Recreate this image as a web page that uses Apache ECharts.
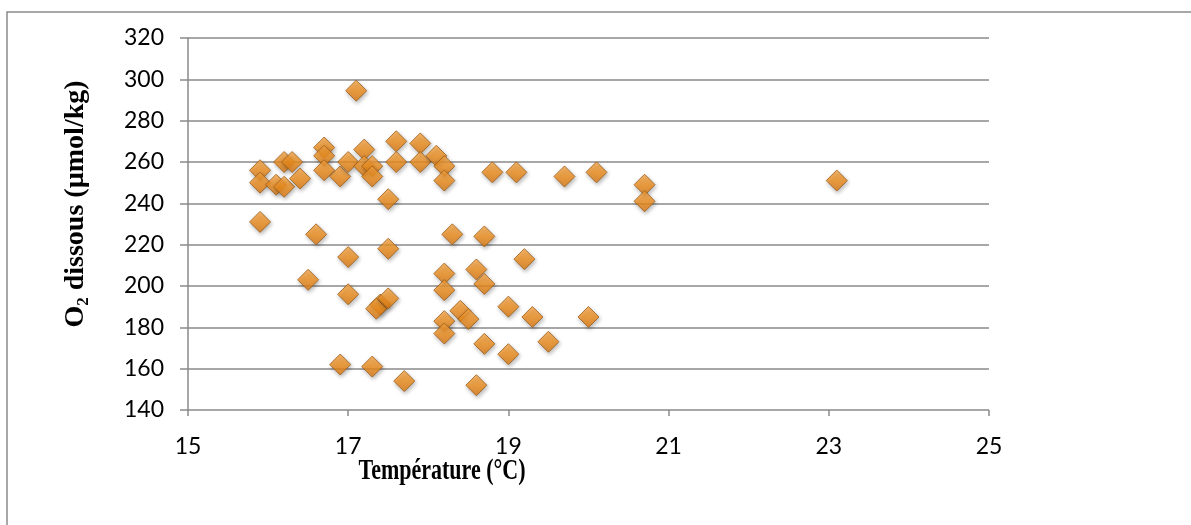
<!DOCTYPE html>
<html>
<head>
<meta charset="utf-8">
<script src="https://cdn.jsdelivr.net/npm/echarts@6/dist/echarts.min.js"></script>
<style>
  html, body { margin: 0; padding: 0; background: #fff; }
  #main { width: 1191px; height: 525px; }
</style>
</head>
<body>
<div id="main"></div>
<script>
// température (°C) / O2 dissous (µmol/kg)
var temperature = [15.9, 15.9, 15.9, 16.1, 16.2, 16.3, 16.2, 16.4, 16.6, 16.5,
  16.7, 16.7, 16.7, 16.9, 17.0, 17.0, 17.0, 16.9, 17.1, 17.2,
  17.2, 17.3, 17.3, 17.3, 17.4, 17.35, 17.5, 17.5, 17.5, 17.6,
  17.6, 17.7, 17.9, 17.9, 18.1, 18.2, 18.2, 18.3, 18.2, 18.2,
  18.2, 18.2, 18.4, 18.5, 18.6, 18.7, 18.7, 18.7, 18.6, 18.8,
  19.1, 19.7, 20.1, 20.7, 20.7, 19.2, 19.0, 19.3, 20.0, 19.0,
  19.5, 23.1];
var oxygene = [256, 250, 231, 249, 260, 260, 248, 252, 225, 203,
  267, 263, 256, 253, 260, 214, 196, 162, 294.5, 266,
  258, 258, 253, 161, 191, 189, 194, 242, 218, 270,
  260, 154, 269, 260, 263, 258, 251, 225, 206, 198,
  183, 177, 188, 184, 208, 201, 224, 172, 152, 255,
  255, 253, 255, 249, 241, 213, 190, 185, 185, 167,
  173, 251];
var xTicks = [15, 17, 19, 21, 23, 25];
var yTicks = [140, 160, 180, 200, 220, 240, 260, 280, 300, 320];

var pageModule = function () {

	var buildData = function(){
		var pts = [];
		for (var i = 0; i < temperature.length; i++) {
			pts.push([temperature[i], oxygene[i]]);
		}
		return pts;
	}

	var initChart = function(){
		var chart = echarts.init(document.getElementById('main'));
		var gris = '#8a8a8a';
		chart.setOption({
			animation: false,
			grid: { left: 188, right: 202, top: 38, bottom: 115 },
			xAxis: {
				type: 'value',
				min: xTicks[0],
				max: xTicks[xTicks.length - 1],
				axisLine: { show: false },
				axisTick: { show: true, customValues: xTicks, length: 6, lineStyle: { color: gris, width: 1.5 } },
				axisLabel: { customValues: xTicks, margin: 25, color: '#000', fontFamily: 'Lato', fontSize: 23 },
				splitLine: { show: false }
			},
			yAxis: {
				type: 'value',
				min: yTicks[0],
				max: yTicks[yTicks.length - 1],
				interval: 20,
				axisLine: { show: true, lineStyle: { color: gris, width: 1.5 } },
				axisTick: { show: true, length: 8, lineStyle: { color: gris, width: 1.5 } },
				axisLabel: { margin: 24, color: '#000', fontFamily: 'Lato', fontSize: 23 },
				splitLine: { show: true, lineStyle: { color: gris, width: 1.5 } }
			},
			series: [{
				type: 'scatter',
				symbol: 'diamond',
				symbolSize: [21, 21],
				data: buildData(),
				itemStyle: {
					color: new echarts.graphic.LinearGradient(0, 0, 0, 1, [
						{ offset: 0, color: '#f9a94a' },
						{ offset: 0.5, color: '#f39220' },
						{ offset: 1, color: '#dd7a12' }
					]),
					borderColor: '#9c5c18',
					borderWidth: 1,
					shadowBlur: 4,
					shadowOffsetX: 1,
					shadowOffsetY: 2,
					shadowColor: 'rgba(0,0,0,0.35)'
				}
			}],
			graphic: [
				{
					type: 'rect',
					shape: { x: 7, y: 12, width: 1220, height: 540 },
					style: { fill: 'none', stroke: gris, lineWidth: 1.5 },
					silent: true
				},
				{
					type: 'text',
					x: 442, y: 471,
					scaleY: 1.35,
					style: {
						text: 'Température (°C)',
						font: 'bold 22px "Liberation Serif"',
						fill: '#000',
						align: 'center',
						verticalAlign: 'middle'
					}
				},
				{
					type: 'text',
					x: 76, y: 204,
					rotation: Math.PI / 2,
					style: {
						text: '{a|O}{b|2}{a| dissous (µmol/kg)}',
						align: 'center',
						verticalAlign: 'middle',
						fill: '#000',
						rich: {
							a: { font: 'bold 28px "Liberation Serif"', fill: '#000' },
							b: { font: 'bold 17px "Liberation Serif"', fill: '#000', padding: [15, 0, 0, 0] }
						}
					}
				}
			]
		});
	}

	return {
		initControl: function () {
			initChart();
		}
	}
}();

pageModule.initControl();
</script>
</body>
</html>
